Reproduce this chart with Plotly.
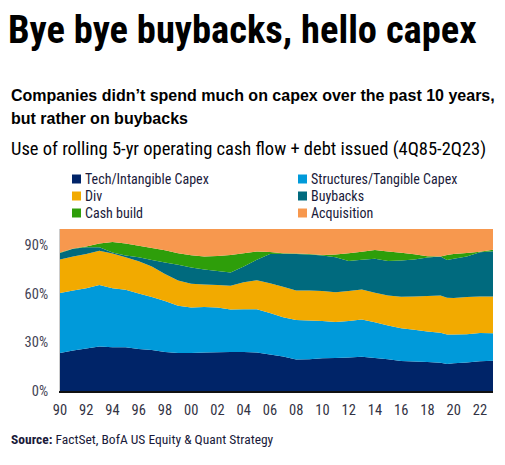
import plotly.graph_objects as go

# share of rolling 5-yr operating cash flow + debt issued, in %
years = [1990, 1991, 1992, 1993, 1994, 1995, 1996, 1997, 1998, 1999,
         2000, 2001, 2002, 2003, 2004, 2005, 2006, 2007, 2008, 2009,
         2010, 2011, 2012, 2013, 2014, 2015, 2016, 2017, 2018, 2019,
         2019.5, 2020, 2021, 2022, 2023]
tech_capex = [23.4, 25.0, 26.3, 27.4, 27.0, 27.0, 26.0, 25.3, 24.0, 23.5,
              23.4, 23.8, 23.9, 24.0, 24.0, 23.8, 22.5, 21.3, 19.5, 19.6,
              20.2, 20.4, 20.7, 21.2, 20.3, 19.6, 18.5, 18.2, 17.9, 17.4,
              16.7, 17.2, 17.6, 18.4, 18.7]
struct_capex = [37.1, 37.0, 37.2, 38.1, 36.5, 35.5, 34.2, 32.8, 31.6, 29.2,
                28.1, 28.0, 27.7, 26.3, 26.5, 26.7, 25.7, 24.3, 24.3, 23.9,
                23.0, 22.2, 22.5, 22.9, 22.1, 20.9, 20.3, 19.6, 18.9, 18.6,
                18.1, 17.6, 17.4, 17.4, 17.0]
div = [20.7, 21.0, 21.0, 21.0, 21.4, 20.1, 19.9, 18.8, 16.6, 15.5,
       14.7, 14.0, 13.9, 14.7, 16.7, 17.9, 18.3, 18.7, 18.3, 18.5,
       18.5, 18.3, 18.5, 18.6, 18.3, 18.4, 19.4, 20.6, 21.8, 23.0,
       22.7, 22.6, 23.0, 22.5, 22.6]
buybacks = [4.0, 4.8, 4.3, 2.3, 0.6, 1.1, 2.5, 3.9, 7.1, 9.8,
            10.1, 9.2, 8.5, 8.1, 9.6, 12.6, 18.0, 20.4, 22.4, 22.2,
            21.9, 21.7, 18.6, 18.3, 20.9, 21.4, 22.4, 22.8, 23.8, 24.0,
            23.3, 24.3, 25.0, 27.4, 28.0]
cash_build = [0.3, 0.2, 0.4, 2.2, 6.5, 7.3, 7.0, 7.5, 7.6, 7.0,
              7.5, 8.0, 9.3, 10.9, 8.2, 5.1, 1.3, 0.3, 0.3, 0.3,
              0.4, 1.6, 4.7, 4.9, 5.5, 5.8, 4.8, 3.2, 0.8, 0.0,
              3.2, 2.8, 2.2, 0.3, 0.9]
acquisition = [14.5, 12.0, 10.8, 9.0, 8.0, 9.0, 10.4, 11.7, 13.1, 15.0,
               16.2, 17.0, 16.7, 16.0, 15.0, 13.9, 14.2, 15.0, 15.2, 15.5,
               16.0, 15.8, 15.0, 14.1, 12.9, 13.9, 14.6, 15.6, 16.8, 17.0,
               16.0, 15.5, 14.8, 14.0, 12.8]

series = [
    ("Tech/Intangible Capex", tech_capex, "#002468"),
    ("Structures/Tangible Capex", struct_capex, "#009ADA"),
    ("Div", div, "#F2AA00"),
    ("Buybacks", buybacks, "#006A7E"),
    ("Cash build", cash_build, "#2E9E0A"),
    ("Acquisition", acquisition, "#F7984E"),
]

tick_years = list(range(1990, 2023, 2))
tick_text = [str(y)[2:] for y in tick_years]
y_ticks = [0, 30, 60, 90]
y_text = ["%d%%" % v for v in y_ticks]

FONT = "Liberation Sans Narrow, Roboto Condensed, Arial Narrow, sans-serif"
WIDE = "Liberation Sans, Arial, sans-serif"
TXT = "#1a1a3a"

fig = go.Figure()
for name, vals, color in series:
    fig.add_trace(go.Scatter(x=years, y=vals, name=name, stackgroup="one",
                             mode="none", fillcolor=color, showlegend=False,
                             hoverinfo="x+y+name"))

# the page has an 8px body margin; helpers take page pixels
L, R, T, B = 52, 20, 221, 82
W, H = 505 - L - R, 465 - T - B

def px_x(p):
    return (p - 8 - L) / W

def px_y(p):
    return (465 - B - (p - 8)) / H

def note(text, x, y, size, color="#000000", family=FONT):
    fig.add_annotation(text=text, x=px_x(x), y=px_y(y), xref="paper", yref="paper",
                       xanchor="left", yanchor="middle", align="left", showarrow=False,
                       font=dict(size=size, color=color, family=family))

note("<b>Bye bye buybacks, hello capex</b>", 6, 30, 38.5)
note("<b>Companies didn\u2019t spend much on capex over the past 10 years,</b>", 9, 95, 16, family=WIDE)
note("<b>but rather on buybacks</b>", 9, 118, 16, family=WIDE)
note("Use of rolling 5-yr operating cash flow + debt issued (4Q85-2Q23)", 9, 149, 18.5)
note("<b>Source:</b> FactSet, BofA US Equity & Quant Strategy", 9, 439, 13.5, color=TXT)

# legend: two columns of small squares
leg_x = [72, 298]
leg_y = [179, 196, 213]
for i, (name, vals, color) in enumerate(series):
    cx, cy = leg_x[i % 2], leg_y[i // 2]
    fig.add_shape(type="rect", xref="paper", yref="paper",
                  x0=px_x(cx), x1=px_x(cx + 9), y0=px_y(cy + 4.5), y1=px_y(cy - 4.5),
                  fillcolor=color, line=dict(width=0))
    note(name, cx + 11, cy, 14, color=TXT)

fig.update_layout(
    width=505, height=465,
    margin=dict(l=L, r=R, t=T, b=B),
    paper_bgcolor="white", plot_bgcolor="white",
    font=dict(family=FONT, color="#222222"),
    showlegend=False,
    xaxis=dict(range=[1990, 2023], tickvals=tick_years, ticktext=tick_text,
               showgrid=False, zeroline=False, showline=True, linecolor="#111111",
               linewidth=2, ticks="", ticklabelstandoff=5,
               tickfont=dict(size=14.5, color="#333344")),
    yaxis=dict(range=[0, 100], tickvals=y_ticks, ticktext=y_text,
               showgrid=False, zeroline=False, showline=True, linecolor="#cccccc",
               linewidth=1, ticks="", ticklabelstandoff=8,
               tickfont=dict(size=14.5, color="#444455")),
)

fig.write_html("out.html")
